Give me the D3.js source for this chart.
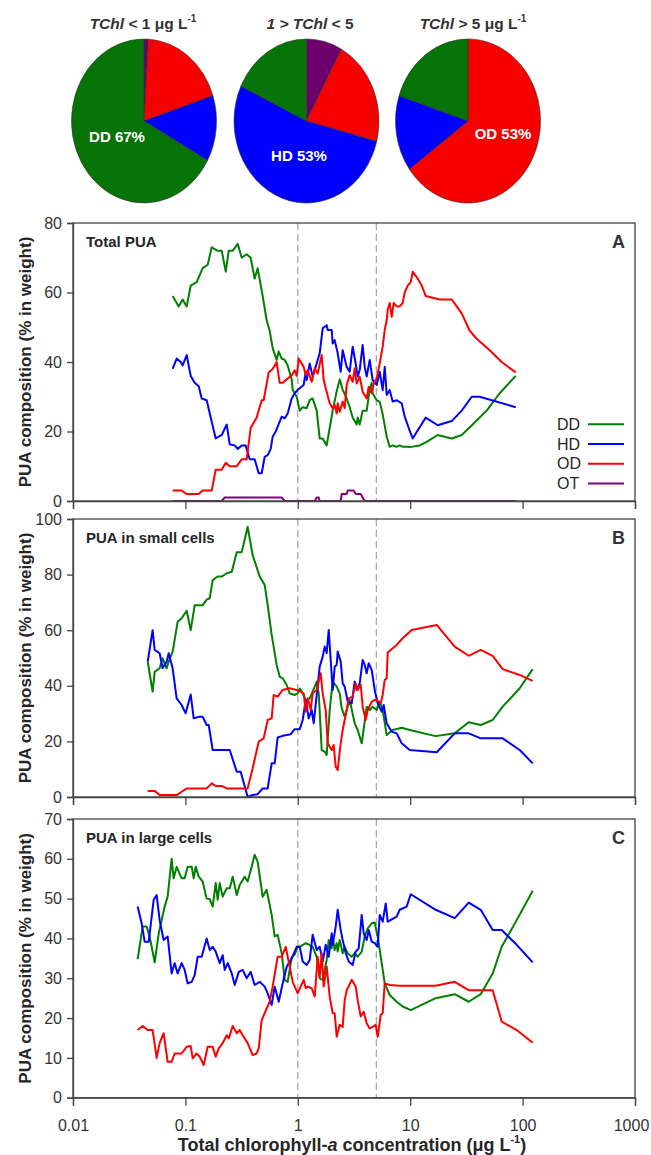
<!DOCTYPE html>
<html><head><meta charset="utf-8">
<script src="https://cdn.jsdelivr.net/npm/d3@7"></script>
<style>
body{margin:0;background:#fff;}
svg{display:block;font-family:"Liberation Sans",Arial,sans-serif;}
</style></head><body>
<svg id="c" width="651" height="1155"></svg>
<script>
// ---------------- DATA ----------------
const xTicks = [0.01, 0.1, 1, 10, 100, 1000];
const thresholds = [1, 5];
const legendKeys = ["DD", "HD", "OD", "OT"];

// pie slices, clockwise from 12 o'clock: OT, OD, HD, DD (%)
const pieKeys = ["OT", "OD", "HD", "DD"];
const pieLow  = [1, 19, 13, 67];
const pieMid  = [8, 21, 53, 18];
const pieHigh = [0, 65, 15, 20];
const pieLabels = ["DD 67%", "HD 53%", "OD 53%"];

// Panel A: Total PUA  [chl-a (µg/L), % in weight]
const totalDD = [[0.077,59],[0.0871,56],[0.0945,58],[0.1026,56],[0.1115,62],[0.126,63],[0.1424,67],[0.1579,68],[0.1714,73],[0.1938,72],[0.2105,72],[0.2285,66],[0.243,72],[0.2636,72],[0.2921,74],[0.3168,70],[0.3508,71],[0.3808,70],[0.4133,64],[0.4394,67],[0.4869,59],[0.5285,52],[0.562,49],[0.5974,44],[0.6485,40.6],[0.676,43],[0.719,41],[0.7645,40.6],[0.8128,39],[0.8826,35],[0.9004,32],[0.9774,30],[1.04,26],[1.106,27],[1.2,26.7],[1.276,29],[1.356,29.5],[1.473,26],[1.566,18],[1.665,18],[1.807,16],[1.922,21],[2.043,26],[2.218,31.5],[2.359,35],[2.508,32],[2.722,29.5],[2.895,27],[3.077,24],[3.341,22],[3.41,24],[3.554,22],[3.778,26],[4.101,26],[4.362,32],[4.545,34],[4.637,31],[5.034,29],[5.354,28.5],[5.691,25],[6.179,18.5],[6.571,15.6],[6.985,16],[7.583,15.6],[8.065,16],[8.573,15.6],[9.5,15.6],[9.9,15.5],[12.15,16],[14.02,17],[17.56,19],[23.4,18],[28.73,19],[35.97,22],[47.93,26],[62.56,31],[86.85,36]];
const totalHD = [[0.077,38],[0.0836,41],[0.0908,40],[0.0945,39],[0.1026,42],[0.1115,36],[0.121,34],[0.1314,33],[0.1396,29.5],[0.1546,29],[0.1714,22.8],[0.186,18],[0.2105,19],[0.2331,22],[0.248,16.3],[0.2748,16],[0.2921,15],[0.3168,16],[0.3438,16],[0.373,12],[0.4133,12],[0.4487,8],[0.4772,8],[0.5075,12.7],[0.5395,13.2],[0.5738,15],[0.5974,18.5],[0.6356,20],[0.662,21.4],[0.719,24.3],[0.7645,23.8],[0.8128,25.2],[0.8826,29.5],[0.9385,31],[0.9978,32],[1.128,33.4],[1.176,37.2],[1.2,34.8],[1.276,39.6],[1.356,35.8],[1.473,39.6],[1.566,42.5],[1.665,49.7],[1.807,50.6],[1.845,49.2],[2.003,49.2],[2.043,45.3],[2.13,46.3],[2.264,42.5],[2.408,37.2],[2.508,43.4],[2.722,38.6],[2.895,37.2],[3.077,44.4],[3.274,39.6],[3.41,35.8],[3.554,37.7],[3.778,44.9],[3.938,38.6],[4.101,35.8],[4.362,40.6],[4.637,34.8],[5.034,33.4],[5.354,37.2],[5.691,31.9],[5.932,38.6],[6.179,30.5],[6.571,31.9],[6.985,28.6],[7.583,29],[8.404,28.1],[8.936,24.3],[9.702,21],[10.52,18],[13.74,24],[17.56,21.8],[23.4,23],[28.73,26],[35.26,30],[41.53,30],[86.85,27]];
const totalOD = [[0.077,3],[0.0926,3],[0.1026,2],[0.1314,2],[0.1424,3],[0.1714,3],[0.186,9],[0.2105,9],[0.2285,11],[0.248,10],[0.2862,10],[0.3168,12],[0.3508,12],[0.3808,21],[0.4304,24],[0.4772,29],[0.4969,29],[0.551,37],[0.5974,38],[0.6485,40],[0.69,34],[0.7335,34],[0.7963,35],[0.8826,36.2],[0.9385,37.6],[0.9774,36],[1.019,41],[1.128,38.6],[1.176,36.2],[1.225,37.7],[1.33,34.3],[1.414,38.2],[1.503,36.7],[1.632,42],[1.699,34.8],[1.807,31.4],[1.922,28.1],[2.043,26.7],[2.13,27.6],[2.218,25.2],[2.264,28.1],[2.359,25.7],[2.508,28.6],[2.614,26.7],[2.722,33.4],[2.895,36.2],[3.077,34.3],[3.208,38.2],[3.341,33.8],[3.554,35.8],[3.778,31.4],[4.101,29.5],[4.275,32.9],[4.545,31],[4.733,33.8],[5.034,35.3],[5.354,39.6],[5.691,44.4],[5.932,49.2],[6.179,52],[6.307,55],[6.571,57],[6.847,53],[7.13,57],[7.583,56],[8.065,56],[8.573,57],[8.936,60],[9.5,62],[10.11,63],[10.52,66],[11.66,64],[12.66,62],[13.74,59],[18.3,58],[23.4,58],[28.73,54],[33.84,49],[39.05,46.7],[50.97,43.4],[65.19,40],[86.85,37]];
const totalOT = [[0.077,0],[0.2105,0],[0.2238,1],[0.719,1],[0.7645,0],[1.414,0],[1.473,1],[1.535,1],[1.566,0],[2.408,0],[2.458,2],[2.722,2],[2.779,3],[3.141,3],[3.274,2],[3.629,2],[3.778,1],[3.938,0],[86.85,0]];

// Panel B: PUA in small cells
const smallDD = [[0.0462,48.7],[0.0511,37.9],[0.0533,45],[0.059,46.3],[0.0627,49.9],[0.0681,46.3],[0.071,48.7],[0.077,52.3],[0.0853,63],[0.0926,64.3],[0.1026,67],[0.1115,60],[0.121,69],[0.1424,69],[0.1546,71],[0.1645,71.5],[0.1749,78],[0.1938,79.3],[0.2105,79.3],[0.2331,80.5],[0.2584,81],[0.2862,88],[0.3168,88],[0.3581,97.2],[0.3965,87],[0.458,79.3],[0.5075,76.3],[0.5395,69],[0.5856,58.3],[0.6485,47.5],[0.69,43.3],[0.7335,42.7],[0.7963,40.3],[0.847,37.3],[0.9385,36.7],[0.9978,37.3],[1.04,39],[1.106,37.3],[1.2,34.3],[1.276,35.5],[1.356,37.9],[1.473,41.5],[1.535,37.3],[1.632,16.9],[1.735,16.3],[1.807,15.1],[1.922,31.3],[2.043,41.5],[2.218,39.7],[2.359,37.3],[2.458,31.9],[2.614,28.9],[2.895,34.9],[3.208,26.5],[3.41,24.1],[3.703,19.3],[3.778,21.7],[4.101,32.5],[4.362,31.3],[4.637,32.5],[5.034,31.3],[5.354,34.3],[5.691,31.3],[6.179,22.3],[6.985,24.1],[8.404,24.9],[9.9,24.1],[16.86,21.9],[24.89,22.9],[33.17,26.9],[42.4,25.9],[54.18,27.7],[66.5,32.5],[94.25,39.1],[123,46]];
const smallHD = [[0.0462,48.7],[0.0511,60],[0.0533,52.9],[0.059,51.7],[0.0627,46.3],[0.0681,48.7],[0.071,51.7],[0.077,46.3],[0.0836,35.5],[0.0926,33.1],[0.1005,30.1],[0.1115,36.9],[0.1185,28.3],[0.134,28.9],[0.1424,28.9],[0.1546,25.9],[0.1612,25.9],[0.1749,16.9],[0.248,16.9],[0.2862,9.1],[0.3104,9.1],[0.3581,0],[0.3965,0.7],[0.4394,1],[0.4869,3.1],[0.5395,3.1],[0.5856,12.1],[0.6227,12.1],[0.662,21.4],[0.7335,22],[0.7963,22.3],[0.8648,22.6],[0.9385,24.4],[1.04,24.4],[1.106,27.7],[1.176,34.9],[1.251,28.3],[1.33,31.3],[1.385,26.5],[1.473,36.7],[1.566,46.9],[1.665,50.5],[1.735,54.1],[1.807,51.7],[1.884,60.1],[1.962,49.3],[2.043,38.5],[2.13,46.9],[2.218,47.5],[2.264,52.3],[2.408,48.7],[2.508,40.9],[2.614,39.7],[2.779,34.3],[3.017,33.7],[3.208,41.5],[3.341,38.5],[3.554,40.9],[3.778,49.3],[3.938,47.5],[4.101,44.5],[4.275,48.1],[4.545,45.7],[4.833,38.5],[5.138,33.7],[5.579,30.7],[5.809,33.1],[6.179,26.5],[6.847,23.5],[7.583,22.9],[8.404,19.3],[9.9,16.9],[17.21,16.1],[24.89,22.9],[33.17,22.9],[42.4,21.1],[66.5,21.1],[94.25,16.9],[123,12.1]];
const smallOD = [[0.0462,2.2],[0.0533,2.2],[0.059,0.7],[0.0836,0.7],[0.0926,1.9],[0.1026,3.1],[0.1546,3.1],[0.1714,4.9],[0.186,4],[0.2105,4],[0.2331,3.1],[0.3581,3.1],[0.3965,10.3],[0.4487,19.9],[0.4969,21.1],[0.5395,27.7],[0.5856,28.3],[0.6098,36.7],[0.662,36.1],[0.7335,38.5],[0.847,39.1],[0.9774,38.5],[1.128,37.3],[1.176,30.7],[1.225,35.5],[1.303,31.3],[1.356,37.3],[1.473,38.5],[1.535,41.5],[1.599,44.5],[1.665,37.3],[1.771,31.3],[1.845,19.3],[2.003,16.9],[2.085,18.7],[2.174,10.9],[2.264,9.7],[2.408,19.3],[2.508,24.1],[2.722,31.3],[2.838,35.5],[3.077,36.1],[3.274,40.9],[3.41,38.5],[3.629,40.3],[3.778,32.5],[4.02,27.7],[4.187,31.3],[4.545,34.3],[4.833,34.9],[5.034,34.9],[5.466,33.7],[5.691,36.7],[5.932,42.1],[6.179,42.7],[6.307,52],[7.583,54.7],[8.573,57.1],[10.32,60.1],[17.21,61.9],[24.89,54.1],[33.17,50.8],[42.4,52.9],[54.18,50.8],[66.5,46],[94.25,43.9],[123,41.8]];

// Panel C: PUA in large cells
const largeDD = [[0.0376,34.8],[0.0417,43],[0.0452,43],[0.0481,40.5],[0.0533,34],[0.0579,41.3],[0.0654,48],[0.0695,50.5],[0.0754,60],[0.0786,55.1],[0.0836,58],[0.0926,55.1],[0.0985,55.1],[0.1047,58],[0.1138,58],[0.1185,55.1],[0.1235,58],[0.1314,55.5],[0.1424,54.3],[0.1546,50],[0.1645,49.9],[0.1749,48],[0.186,53.9],[0.1938,49.7],[0.202,53.9],[0.2147,50.5],[0.2331,52.6],[0.248,52.6],[0.2636,55.5],[0.2862,50.9],[0.304,53.4],[0.3368,55.5],[0.3581,54.3],[0.3887,58],[0.4133,61],[0.4394,59.3],[0.4869,50.5],[0.5285,52.2],[0.5856,45.9],[0.6227,40.5],[0.662,40.9],[0.719,36.3],[0.7645,29.6],[0.8128,29.1],[0.8826,35.2],[0.9385,36],[0.9978,37.9],[1.04,37.9],[1.176,38.8],[1.276,38.4],[1.356,37.9],[1.473,35.4],[1.566,30],[1.665,29.6],[1.807,34.6],[1.884,39.6],[2.003,37.5],[2.043,40.5],[2.13,37.1],[2.218,38.8],[2.264,36.7],[2.359,39.6],[2.508,36.3],[2.614,37.9],[2.779,36.3],[3.017,35.4],[3.208,36.3],[3.41,35.4],[3.703,36.7],[3.938,40.5],[4.187,42.5],[4.545,43.8],[4.833,44],[5.138,40.5],[5.579,33.8],[5.932,28.7],[6.571,25.8],[7.583,24.1],[8.573,22.9],[10.11,22],[16.86,25],[24.89,26],[33.17,24.1],[42.4,26],[54.18,31.2],[65.19,37.9],[88.62,44.6],[123,52]];
const largeHD = [[0.0376,48],[0.0408,43.8],[0.0434,39.2],[0.0472,39.2],[0.0522,49.7],[0.0555,50.9],[0.059,44.6],[0.064,39.6],[0.0695,40.5],[0.0754,31.2],[0.0802,33.8],[0.0853,31.2],[0.0926,33.8],[0.0985,32.1],[0.1047,28.7],[0.1138,29.1],[0.121,30.8],[0.1286,35.4],[0.1396,35.4],[0.1546,40],[0.1645,37.1],[0.1749,37.9],[0.186,36.7],[0.202,33.8],[0.2147,35.8],[0.2238,32.1],[0.238,33.8],[0.2584,31.2],[0.2748,28.3],[0.2983,31.6],[0.3232,32.1],[0.3508,30],[0.3808,31.6],[0.4133,28.3],[0.458,29.1],[0.5075,27.9],[0.5395,26.2],[0.5856,23.3],[0.6227,27.9],[0.676,24.1],[0.7335,28.7],[0.7963,32.9],[0.8826,35],[0.9774,37.9],[1.04,37.9],[1.106,34.2],[1.2,33.3],[1.276,34.6],[1.356,40.9],[1.473,37.1],[1.566,37.9],[1.665,34.2],[1.771,38.4],[1.884,35.4],[2.003,41.3],[2.043,38.4],[2.174,43],[2.264,47.2],[2.408,42.1],[2.508,39.6],[2.668,36.3],[2.838,34.2],[3.077,33.3],[3.274,36.7],[3.483,37.5],[3.703,45.9],[3.856,41.3],[4.101,39.6],[4.275,42.1],[4.545,39.2],[4.833,38.8],[5.138,37.9],[5.354,45.9],[5.691,44.2],[6.055,48.8],[6.307,44.2],[7.583,45.5],[8.065,47.2],[9.307,48],[10.11,51.1],[16.86,47.2],[24.89,45.1],[33.17,49],[42.4,47.2],[54.18,42.1],[65.19,42.1],[88.62,38.4],[123,34]];
const largeOD = [[0.0376,17],[0.0417,18],[0.0462,17],[0.0511,17],[0.0555,10],[0.059,13.7],[0.064,16.2],[0.0695,9],[0.0754,9],[0.0802,11.1],[0.0926,11.1],[0.1026,12.8],[0.1115,13],[0.1161,9.9],[0.126,11.1],[0.134,10.3],[0.1454,8.2],[0.1579,12.8],[0.1749,12.8],[0.186,10.3],[0.1979,12.4],[0.2147,13.7],[0.2331,15.7],[0.243,14.9],[0.2636,18],[0.2862,16.2],[0.304,17],[0.3232,15.7],[0.3581,13.7],[0.3965,10.7],[0.4304,11.1],[0.4487,12.4],[0.4772,19.5],[0.5285,22.4],[0.562,24.1],[0.5974,27.9],[0.662,35.4],[0.719,35.4],[0.7804,37.9],[0.847,32.9],[0.9004,29.1],[0.9978,26.2],[1.128,29.6],[1.176,27.5],[1.225,27.9],[1.33,27.5],[1.414,25.4],[1.503,35.4],[1.566,30.4],[1.632,36.3],[1.699,27.9],[1.807,32.9],[1.922,25.4],[2.043,21.2],[2.13,21.2],[2.218,15.3],[2.359,18.3],[2.508,17.8],[2.614,24.5],[2.722,27],[3.017,29.6],[3.274,27.9],[3.41,24.5],[3.629,20.4],[3.856,21.6],[4.101,18.7],[4.362,17.4],[4.637,17.8],[4.933,18.3],[5.138,15.3],[5.466,20.8],[5.691,21.2],[5.932,28.7],[6.571,28.3],[8.065,28.1],[16.86,28.1],[24.89,29.1],[33.17,27],[42.4,27],[54.18,27],[65.19,19.1],[88.62,17],[123,13.8]];

// ---------------- DRAW ----------------
const svg = d3.select("#c");
const FONT = '"Liberation Sans", Arial, sans-serif';
const lineColor = {DD:"#008000", HD:"#0000ff", OD:"#ff0000", OT:"#800080"};
const pieColor  = {DD:"#057305", HD:"#0000ff", OD:"#f70000", OT:"#6e006e"};
const TXT = "#262626";

const x = d3.scaleLog().domain([0.01, 1000]).range([73, 635]);

// ---- pies ----
const pies = [
  {vals: pieLow,  cx: 144,   title: [["TChl", true], [" < 1 \u03bcg L", false], ["-1", "sup"]], tcx: 143, lab: [-27, 15.5]},
  {vals: pieMid,  cx: 306.5, title: [["1 > TChl", true], [" < 5", false]], tcx: 310, lab: [-7.5, 34]},
  {vals: pieHigh, cx: 468,   title: [["TChl", true], [" > 5 \u03bcg L", false], ["-1", "sup"]], tcx: 473, lab: [35, 12]}
];
const pieCY = 121, rx = 72.5, ry = 82;
const pieGen = d3.pie().sort(null).value(d => d.v);
const arc = d3.arc().innerRadius(0).outerRadius(rx);
pies.forEach((p, i) => {
  const data = pieKeys.map((k, j) => ({k, v: p.vals[j]}));
  const g = svg.append("g").attr("transform", `translate(${p.cx},${pieCY}) scale(1,${ry/rx})`);
  g.selectAll("path").data(pieGen(data)).enter().append("path")
    .attr("d", arc).attr("fill", d => pieColor[d.data.k])
    .attr("stroke", "#333").attr("stroke-width", 0.6)
    .attr("vector-effect", "non-scaling-stroke");
  svg.append("text").attr("x", p.cx + p.lab[0]).attr("y", pieCY + p.lab[1])
    .attr("text-anchor", "middle").attr("dominant-baseline", "central")
    .attr("font-family", FONT).attr("font-weight", "bold").attr("font-size", 15)
    .attr("fill", "#fff").text(pieLabels[i]);
  const t = svg.append("text").attr("x", p.tcx).attr("y", 29).attr("text-anchor", "middle")
    .attr("font-family", FONT).attr("font-weight", "bold").attr("font-size", 15.5).attr("fill", "#333");
  p.title.forEach(([s, f]) => {
    const ts = t.append("tspan").text(s);
    if (f === true) ts.attr("font-style", "italic");
    if (f === "sup") ts.attr("font-size", 10).attr("dy", -7);
  });
});

// ---- line panels ----
const panels = [
  {top: 223, bottom: 501, max: 80, step: 20, title: "Total PUA", letter: "A",
   series: [["DD", totalDD], ["HD", totalHD], ["OD", totalOD], ["OT", totalOT]], labels: false, legend: true},
  {top: 519, bottom: 797, max: 100, step: 20, title: "PUA in small cells", letter: "B",
   series: [["DD", smallDD], ["HD", smallHD], ["OD", smallOD]], labels: false},
  {top: 819, bottom: 1097.7, max: 70, step: 10, title: "PUA in large cells", letter: "C",
   series: [["DD", largeDD], ["HD", largeHD], ["OD", largeOD]], labels: true}
];

panels.forEach(p => {
  const g = svg.append("g");
  const y = d3.scaleLinear().domain([0, p.max]).range([p.bottom, p.top]);
  thresholds.forEach(v => g.append("line")
    .attr("x1", x(v)).attr("x2", x(v)).attr("y1", p.top).attr("y2", p.bottom)
    .attr("stroke", "#a8a8a8").attr("stroke-width", 1.3).attr("stroke-dasharray", "7,4"));
  const line = d3.line().x(d => x(d[0])).y(d => y(d[1]));
  p.series.forEach(([k, data]) => g.append("path").datum(data).attr("d", line)
    .attr("fill", "none").attr("stroke", lineColor[k]).attr("stroke-width", 2)
    .attr("stroke-linejoin", "round"));
  g.append("rect").attr("x", x(0.01)).attr("y", p.top)
    .attr("width", x(1000) - x(0.01)).attr("height", p.bottom - p.top)
    .attr("fill", "none").attr("stroke", "#444").attr("stroke-width", 1.3);
  const ya = g.append("g").attr("transform", `translate(${x(0.01)},0)`)
    .call(d3.axisLeft(y).tickValues(d3.range(0, p.max + 1, p.step)).tickSize(6).tickPadding(5));
  const xa = g.append("g").attr("transform", `translate(0,${p.bottom})`)
    .call(d3.axisBottom(x).tickValues(xTicks).tickSize(8).tickPadding(14)
      .tickFormat(p.labels ? d3.format("~g") : () => ""));
  [ya, xa].forEach(a => {
    a.select(".domain").attr("stroke", "#444").attr("stroke-width", 1.3);
    a.selectAll(".tick line").attr("stroke", "#444").attr("stroke-width", 1.3);
    a.selectAll(".tick text").attr("font-family", FONT).attr("font-size", 16).attr("fill", "#333");
  });
  // keep the last x label inside the page
  xa.selectAll(".tick text").filter(d => d === 1000).attr("dx", -4);
  g.append("text").attr("transform", `translate(31,${(p.top + p.bottom) / 2}) rotate(-90)`)
    .attr("text-anchor", "middle").attr("font-family", FONT).attr("font-weight", "bold")
    .attr("font-size", 17).attr("fill", TXT).text("PUA composition (% in weight)");
  g.append("text").attr("x", 86).attr("y", p.top + 23.5).attr("font-family", FONT)
    .attr("font-weight", "bold").attr("font-size", 15).attr("fill", TXT).text(p.title);
  g.append("text").attr("x", 625).attr("y", p.top + 24.5).attr("text-anchor", "end")
    .attr("font-family", FONT).attr("font-weight", "bold").attr("font-size", 18).attr("fill", "#333").text(p.letter);
  if (p.legend) {
    legendKeys.forEach((k, i) => {
      const ly = 424.3 + i * 19.7;
      g.append("text").attr("x", 557).attr("y", ly).attr("dominant-baseline", "central")
        .attr("font-family", FONT).attr("font-size", 16).attr("fill", TXT).text(k);
      g.append("line").attr("x1", 588).attr("x2", 624).attr("y1", ly).attr("y2", ly)
        .attr("stroke", lineColor[k]).attr("stroke-width", 2);
    });
  }
});

// x-axis title
const xt = svg.append("text").attr("x", 352).attr("y", 1151).attr("text-anchor", "middle")
  .attr("font-family", FONT).attr("font-weight", "bold").attr("font-size", 18).attr("fill", TXT);
xt.append("tspan").text("Total chlorophyll-");
xt.append("tspan").attr("font-style", "italic").text("a");
xt.append("tspan").text(" concentration (\u03bcg L");
xt.append("tspan").attr("font-size", 11).attr("dy", -8).text("-1");
xt.append("tspan").attr("dy", 8).text(")");
</script>
</body></html>
